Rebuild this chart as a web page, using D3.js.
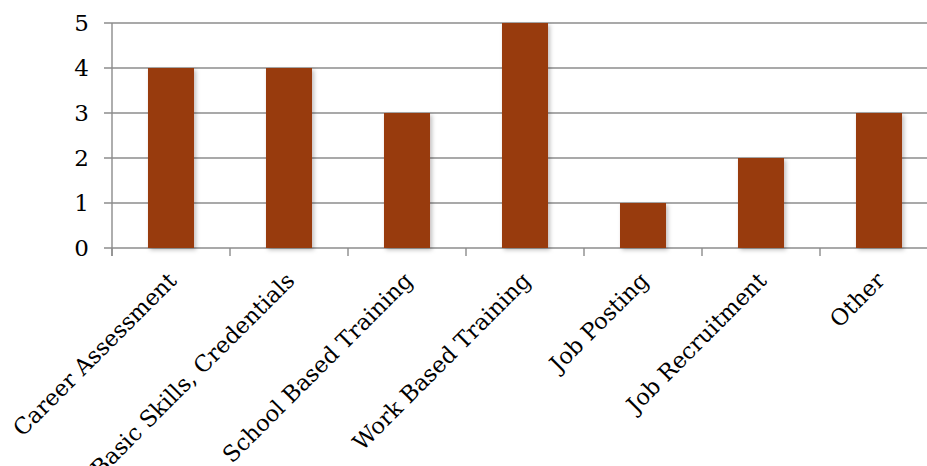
<!DOCTYPE html>
<html>
<head>
<meta charset="utf-8">
<script src="https://d3js.org/d3.v7.min.js"></script>
<style>
body { margin: 0; background: #fff; }
text { font-family: "DejaVu Serif", serif; fill: #000; }
</style>
</head>
<body>
<div id="chart"></div>
<script>
// data
var categories = ["Career Assessment", "Basic Skills, Credentials", "School Based Training",
                  "Work Based Training", "Job Posting", "Job Recruitment", "Other"];
var counts = [4, 4, 3, 5, 1, 2, 3];
var yTicks = [0, 1, 2, 3, 4, 5];

var W = 927, H = 466;
var plotLeft = 112, plotTop = 23, plotBottom = 248;
var band = 118;

var svg = d3.select("#chart").append("svg")
    .attr("width", W).attr("height", H);

var defs = svg.append("defs");
var f = defs.append("filter").attr("id", "shadow")
    .attr("x", "-20%").attr("y", "-10%").attr("width", "150%").attr("height", "130%");
f.append("feDropShadow").attr("dx", 2).attr("dy", 2).attr("stdDeviation", 2)
    .attr("flood-color", "#000").attr("flood-opacity", 0.25);

var x = d3.scaleBand()
    .domain(categories)
    .range([plotLeft, plotLeft + band * categories.length])
    .paddingInner(0.61)
    .paddingOuter(0.305);

var y = d3.scaleLinear().domain([0, 5]).range([plotBottom, plotTop]);

// gridlines
svg.append("g").selectAll("line")
  .data(yTicks)
  .enter().append("line")
    .attr("x1", plotLeft - 8).attr("x2", W)
    .attr("y1", function(d) { return y(d); })
    .attr("y2", function(d) { return y(d); })
    .attr("stroke", "#8c8c8c").attr("stroke-width", 1.4);

// y axis line
svg.append("line")
    .attr("x1", plotLeft).attr("x2", plotLeft)
    .attr("y1", plotTop).attr("y2", plotBottom + 8)
    .attr("stroke", "#8c8c8c").attr("stroke-width", 1.4);

// x tick marks at band edges
var edges = d3.range(categories.length).map(function(i) { return plotLeft + i * band; });
svg.append("g").selectAll("line")
  .data(edges)
  .enter().append("line")
    .attr("x1", function(d) { return d; }).attr("x2", function(d) { return d; })
    .attr("y1", plotBottom).attr("y2", plotBottom + 8)
    .attr("stroke", "#8c8c8c").attr("stroke-width", 1.4);

// y labels
svg.append("g").selectAll("text")
  .data(yTicks)
  .enter().append("text")
    .attr("x", plotLeft - 23)
    .attr("y", function(d) { return y(d); })
    .attr("dy", "0.36em")
    .attr("text-anchor", "end")
    .style("font-size", "23px")
    .text(function(d) { return d; });

// bars
svg.append("g").selectAll("rect")
  .data(counts)
  .enter().append("rect")
    .attr("x", function(d, i) { return x(categories[i]); })
    .attr("y", function(d) { return y(d); })
    .attr("width", x.bandwidth())
    .attr("height", function(d) { return plotBottom - y(d); })
    .attr("fill", "#983a10")
    .attr("filter", "url(#shadow)");

// category labels, rotated
svg.append("g").selectAll("text")
  .data(categories)
  .enter().append("text")
    .attr("text-anchor", "end")
    .attr("transform", function(d) {
      var cx = x(d) + x.bandwidth() / 2 + 7;
      return "translate(" + cx + "," + 282 + ") rotate(-45)";
    })
    .style("font-size", "22.5px")
    .text(function(d) { return d; });
</script>
</body>
</html>
